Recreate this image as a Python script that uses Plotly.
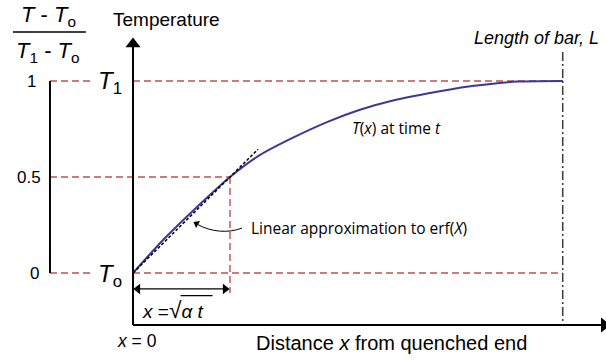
import plotly.graph_objects as go

# ---- data (x in units of sqrt(alpha t), y = (T - To)/(T1 - To)) ----
curve_x = [0, 0.31, 0.66, 1.0, 1.31, 1.65, 2.0, 2.34, 2.68, 3.09, 3.44, 3.78, 3.96, 4.43]
curve_y = [0, 0.172, 0.344, 0.5, 0.615, 0.705, 0.786, 0.850, 0.898, 0.940, 0.970, 0.990, 0.997, 1.0]
lin_x = [0, 1.29]
lin_y = [0, 0.645]
levels = [0, 0.5, 1]
level_labels = ["0", "0.5", "1"]
bar_length = 4.43          # L
x_half = 1.0               # x where curve reaches 0.5 (= sqrt(alpha t))

RED = "rgb(192,80,77)"
BLUE = "rgb(58,58,150)"
FONT = "Liberation Sans, Arial, sans-serif"
FONT2 = "Open Sans, sans-serif"

PXX = 97.0   # pixels per x unit
PXY = 192.0  # pixels per y unit
x_axis_y = -0.271
left_x = -0.856
lab_end = -0.423

fig = go.Figure()

def seg(x0, y0, x1, y1, color, width, dash="solid"):
    fig.add_shape(type="line", x0=x0, y0=y0, x1=x1, y1=y1, xref="x", yref="y",
                  line=dict(color=color, width=width, dash=dash), layer="below")

# red dashed guide lines
for lv in levels:
    if lv == 0.5:
        seg(left_x, lv, x_half, lv, RED, 1.4, "7px,4px")
    else:
        seg(left_x, lv, lab_end, lv, RED, 1.4, "7px,4px")
        seg(0, lv, bar_length, lv, RED, 1.4, "7px,4px")
seg(x_half, 0.5, x_half, -0.104, RED, 1.4, "7px,4px")

# left normalised scale bar
seg(left_x, 0, left_x, 1, "black", 2)

# length of bar dash-dot
seg(bar_length, 1.151, bar_length, x_axis_y, "rgb(60,60,60)", 1.5, "9px,3px,2px,3px")

# fraction bar
seg(-1.237, 1.255, -0.485, 1.255, "black", 1.5)

# axes lines
y_tip = 1.224
x_tip = 4.92
seg(0, x_axis_y, 0, y_tip - 8 / PXY, "black", 2)
seg(0, x_axis_y, x_tip - 8 / PXX, x_axis_y, "black", 2)
# double arrow line
seg(0.03, -0.083, x_half - 0.03, -0.083, "black", 1.3)
# overline of square root
seg(0.49, -0.118, 0.82, -0.118, "black", 1.2)

# curve
fig.add_trace(go.Scatter(x=curve_x, y=curve_y, mode="lines",
                         line=dict(color=BLUE, width=2, shape="spline", smoothing=0.8),
                         hoverinfo="skip"))
# linear approximation
fig.add_trace(go.Scatter(x=lin_x, y=lin_y, mode="lines",
                         line=dict(color="black", width=1.5, dash="3px,2px"),
                         hoverinfo="skip"))

# curved pointer for linear approximation
fig.add_shape(type="path", xref="x", yref="y",
              path="M 1.124 0.234 C 0.98 0.205, 0.80 0.215, 0.67 0.252",
              line=dict(color="black", width=1))

# arrowheads as triangle markers
heads = [
    # x, y, symbol, size, angle
    (0, y_tip - 6 / PXY, "triangle-up", 13, 0),
    (x_tip - 6 / PXX, x_axis_y, "triangle-right", 13, 0),
    (0.05, -0.083, "triangle-left", 9, 0),
    (x_half - 0.05, -0.083, "triangle-right", 9, 0),
    (0.655, 0.257, "triangle-left", 7, 30),
]
for hx, hy, sym, sz, ang in heads:
    fig.add_trace(go.Scatter(x=[hx], y=[hy], mode="markers", hoverinfo="skip",
                             marker=dict(symbol=sym, size=sz, angle=ang, color="black",
                                         line=dict(width=0))))

ann = []

def txt(x, y, t, size, family=FONT, xanchor="center", color="black"):
    ann.append(dict(x=x, y=y, xref="x", yref="y", text=t, showarrow=False,
                    xanchor=xanchor, yanchor="middle", font=dict(family=family, size=size, color=color)))

SUB = '<span style="font-size:85%">'
# fraction label
txt(-0.876, 1.336, "<i>T</i> - <i>T</i><sub>o</sub>", 22)
txt(-0.876, 1.15, "<i>T</i><sub>1</sub> - <i>T</i><sub>o</sub>", 22)
txt(0.345, 1.318, "Temperature", 19)
# normalised labels
lab_pos = [-1.02, -1.075, -1.05]
for lv, lb, xp in zip(levels, level_labels, lab_pos):
    txt(xp, lv, lb, 17)
# T1 / T0
txt(-0.235, 0.99, "<i>T</i><sub>1</sub>", 24)
txt(-0.24, -0.015, "<i>T</i><sub>o</sub>", 24)
txt(2.72, 0.755, "<i>T</i>(<i>x</i>) at time <i>t</i>", 15.5, FONT2)
txt(1.20, 0.234, "Linear approximation to erf(<i>X</i>)", 15.5, FONT2, xanchor="left")
txt(4.82, 1.224, "<i>Length of bar, L</i>", 18, xanchor="right")
txt(0.07, -0.193, '<i>x</i> =<span style="font-size:120%">√</span><i>α t</i>', 19, xanchor="left")
txt(0.04, -0.354, "<i>x</i> = 0", 17.5)
txt(2.66, -0.365, "Distance <i>x</i> from quenched end", 20)

fig.update_layout(
    width=606, height=360, margin=dict(l=0, r=0, t=0, b=0),
    paper_bgcolor="white", plot_bgcolor="white", showlegend=False,
    xaxis=dict(range=[-133/97, (606-133)/97], visible=False, fixedrange=True),
    yaxis=dict(range=[(273-360)/192, 273/192], visible=False, fixedrange=True),
    annotations=ann,
)
fig.write_html("out.html")
